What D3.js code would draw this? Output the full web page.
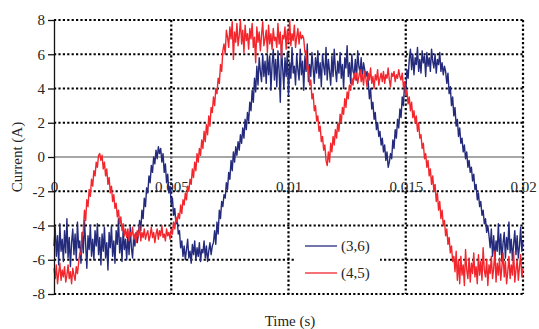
<!DOCTYPE html>
<html>
<head>
<meta charset="utf-8">
<script src="https://cdn.jsdelivr.net/npm/d3@7"></script>
<style>
  body { margin: 0; background: #fff; }
  svg { display: block; }
  text { font-family: "Liberation Serif", "Times New Roman", serif; fill: #262626; }
</style>
</head>
<body>
<svg id="chart" width="539" height="329"></svg>
<script>
// sample grid of the scope trace (s)
const sampleStep = 0.00005;
const yTicks = [-8, -6, -4, -2, 0, 2, 4, 6, 8];
const xTicks = [0, 0.005, 0.01, 0.015, 0.02];
const xTickLabels = ['0', '0.005', '0.01', '0.015', '0.02'];
const seriesNames = ['(3,6)', '(4,5)'];

// phase current (3,6)
const current36 = [
  -5.2,-4.1,-5.8,-4.6,-6.3,-3.9,-5.5,-4.8,-6.1,-4.3,-5.6,-3.6,-5.9,-4.7,-6.4,-5.0,-4.2,-5.7,-4.5,-6.0,
  -3.8,-5.3,-4.9,-6.2,-4.4,-5.6,-3.7,-5.1,-6.5,-4.6,-5.4,-4.0,-5.8,-4.8,-6.0,-4.3,-5.2,-3.9,-5.7,-4.7,
  -6.3,-4.5,-5.5,-4.1,-5.9,-5.0,-6.6,-4.4,-5.3,-4.0,-5.8,-4.9,-6.2,-4.3,-5.1,-3.6,-5.6,-4.7,-6.1,-4.2,
  -5.4,-4.8,-6.0,-4.5,-5.7,-4.1,-5.3,-5.9,-4.6,-5.2,-4.4,-5.0,
  -4.5,-3.7,-4.3,-3.1,-3.6,-2.4,-2.9,-1.8,-2.1,-1.1,-1.5,-0.5,-0.9,0.0,-0.4,0.4,-0.1,0.6,0.2,
  0.5,-0.3,0.2,-0.9,-0.4,-1.5,-1.0,-2.1,-1.7,-2.8,-2.4,-3.4,-3.0,-3.9,-3.6,-4.5,-4.3,
  -5.3,-4.9,-5.8,-5.2,-6.0,-5.4,-4.8,-5.9,-5.5,-6.2,-5.1,-5.7,-4.9,-6.0,-5.3,-5.8,-5.0,-6.1,-5.4,-5.6,
  -4.9,-5.9,-5.2,-6.1,-5.5,-5.0,-5.7,-5.2,
  -5.0,-4.3,-5.1,-3.8,-4.5,-3.1,-3.6,-2.6,-2.9,-2.2,-2.4,-1.5,-1.9,-0.9,-1.3,-0.2,-0.8,0.3,-0.3,0.6,
  0.1,0.9,0.4,1.3,0.8,1.7,1.1,2.2,1.6,2.6,2.1,3.2,2.7,3.9,3.2,4.6,3.8,5.3,4.2,5.8,5.0,4.4,6.0,4.7,5.6,
  4.3,6.0,4.8,5.9,3.9,5.4,6.3,4.5,5.7,4.1,6.2,5.0,3.2,6.5,5.2,4.0,5.8,4.7,6.1,3.6,
  5.5,4.6,6.4,4.9,5.3,4.2,6.0,5.1,4.5,6.3,4.8,5.6,3.9,5.9,5.0,6.6,4.4,5.4,4.7,6.1,
  5.2,4.3,5.8,4.9,6.2,4.6,5.5,4.1,6.0,5.3,4.8,6.4,4.5,5.7,5.0,4.2,5.9,4.7,6.3,5.1,
  4.4,5.6,4.9,6.1,4.6,5.4,4.0,5.8,5.2,6.5,4.7,5.5,4.3,6.0,5.0,4.8,5.7,4.5,6.2,5.3,
  4.9,5.8,4.6,5.5,5.1,4.7,5.0,
  4.4,3.4,4.0,2.8,3.2,2.2,2.6,1.6,2.0,1.2,1.5,0.7,1.1,0.3,0.7,-0.2,0.3,-0.6,-0.3,
  0.2,-0.1,1.0,0.5,1.6,1.1,2.2,1.7,2.8,2.3,3.5,3.0,4.3,3.8,5.1,4.6,5.7,
  6.3,5.1,6.0,4.8,5.8,5.4,6.4,5.0,5.7,4.9,6.2,5.5,5.9,4.7,6.1,5.3,5.8,5.0,6.3,5.6,
  5.2,6.0,4.9,5.7,5.4,6.1,5.0,5.5,4.8,5.3,
  5.0,4.3,4.9,3.7,4.1,3.0,3.5,2.4,2.9,1.8,2.2,1.2,1.7,0.8,1.1,0.3,0.7,-0.1,0.3,-0.6,
  -0.2,-0.9,-0.6,-1.4,-1.0,-1.9,-1.6,-2.5,-2.1,-2.9,-2.6,-3.4,-3.1,-3.9,-3.6,-4.4,-4.0,-4.6,
  -5.3,-4.2,-5.8,-4.6,-6.0,-4.9,-5.5,-3.9,-5.7,-4.5,-6.1,-5.0,-4.4,-5.9,-4.7,-5.4,-3.8,-5.6,-4.8,-6.0,
  -5.1,-4.3,-5.7,-4.6,-5.9,-5.2,-4.1,-5.5,-4.9
];

// phase current (4,5)
const current45 = [
  -6.5,-7.1,-6.3,-7.4,-6.8,-6.2,-7.2,-6.6,-7.0,-6.4,-7.3,-6.9,-6.3,-7.1,-6.7,-7.4,-6.5,-6.9,-7.2,-6.4,-6.8,
  -6.2,-5.6,-5.7,-4.6,-4.3,-3.1,-3.7,-2.5,-2.9,-1.9,-2.3,-1.3,-1.7,-0.8,-1.1,-0.3,-0.6,0.1,0.2,
  -0.2,0.1,-0.7,-0.3,-1.1,-0.7,-1.6,-1.2,-2.1,-1.7,-2.6,-2.2,-3.0,-2.7,-3.5,-3.1,-3.9,-3.5,-4.3,-3.9,-4.6,-4.2,
  -4.7,-4.2,-4.9,-4.4,-4.6,-4.1,-4.8,-4.5,-5.0,-4.3,-4.6,-4.0,-4.9,-4.4,-4.7,-4.2,-4.8,-4.5,-4.3,-4.9,
  -4.6,-4.1,-4.7,-4.4,-5.0,-4.5,-4.2,-4.8,-4.3,-4.6,-4.0,-4.7,-4.5,-4.9,-4.2,-4.6,-4.4,-4.8,
  -4.2,-4.5,-3.8,-4.2,-3.5,-3.8,-3.3,-3.6,-2.8,-3.3,-2.5,-2.8,-2.1,-2.5,-1.7,-2.0,-1.3,-1.6,-0.7,-1.2,
  -0.3,-0.8,0.2,-0.3,0.5,0.1,1.0,0.5,1.5,0.9,1.9,1.3,2.4,1.8,2.9,2.6,3.5,3.0,4.0,3.7,
  4.6,4.3,5.4,5.0,6.2,6.6,6.0,7.4,7.0,
  6.4,7.6,6.9,7.9,5.7,7.3,6.7,7.8,6.5,7.1,8.0,6.6,7.4,6.1,7.7,6.8,7.2,6.3,7.5,6.9,
  7.8,6.4,7.0,5.5,7.6,6.7,7.3,6.2,7.1,7.9,6.5,6.9,7.4,6.1,7.7,6.6,7.2,6.3,7.5,6.8,
  7.0,6.4,7.8,6.6,7.3,5.8,7.1,6.9,7.6,6.3,7.4,6.7,8.0,6.5,7.2,6.8,7.7,6.4,7.0,7.5,
  6.6,7.3,6.9,7.1,
  6.9,6.1,6.2,5.1,5.3,4.2,4.5,3.4,3.7,2.7,3.0,2.1,2.4,1.5,1.8,0.9,1.2,0.4,0.7,-0.2,-0.5,
  0.3,-0.3,0.8,0.3,1.2,0.7,1.6,1.1,2.0,1.5,2.5,2.0,2.9,2.5,3.4,2.9,3.8,3.4,4.2,3.9,4.6,4.2,4.9,4.5,
  4.9,4.3,4.7,5.1,4.4,4.8,4.2,5.0,4.6,4.1,4.9,4.5,5.2,4.3,4.7,4.0,4.8,4.5,5.1,4.2,
  4.6,4.9,4.4,5.0,4.3,4.8,4.6,5.2,4.5,4.1,4.9,4.7,5.0,4.4,4.8,4.6,5.1,4.7,
  4.5,4.9,4.1,4.4,3.6,3.9,3.1,3.5,2.7,3.2,2.3,2.7,2.0,2.4,1.5,2.0,1.1,1.3,0.5,0.8,
  -0.1,0.2,-0.6,-0.2,-1.1,-0.7,-1.6,-1.1,-2.0,-1.6,-2.6,-2.1,-3.1,-2.6,-3.6,-3.1,-4.0,-3.7,-4.6,-4.2,
  -5.1,-4.7,-5.6,-5.2,-6.1,-5.8,
  -6.7,-5.5,-7.2,-6.0,-7.4,-5.8,-6.9,-6.3,-7.5,-5.4,-6.6,-7.1,-5.9,-7.3,-6.2,-6.8,-5.6,-7.0,-6.4,-7.4,
  -5.7,-6.9,-6.1,-7.2,-5.3,-6.6,-7.0,-6.0,-7.5,-6.3,-6.8,-5.8,-7.1,-6.5,-5.5,-7.3,-6.2,-6.9,-5.9,-7.2,
  -6.4,-5.6,-7.0,-6.1,-7.4,-6.7,-5.8,-7.1,-6.3,-6.9,-5.5,-7.3,-6.6,-6.0,-7.2,-6.4,-5.7,-7.0,-6.5
];

const seriesColors = ['#242a7c', '#f2262c'];
const seriesValues = [current36, current45];

const svg = d3.select('#chart');
const margin = { top: 20, right: 16, bottom: 35, left: 54 },
      width = 539 - margin.left - margin.right,
      height = 329 - margin.top - margin.bottom;

const g = svg.append('g')
  .attr('transform', `translate(${margin.left},${margin.top})`);

const x = d3.scaleLinear().domain([0, 0.02]).range([0, width]);
const y = d3.scaleLinear().domain([-8, 8]).range([height, 0]);

// dotted grid
g.append('g').selectAll('line')
  .data(yTicks.filter(d => d !== 0))
  .enter().append('line')
  .attr('x1', 0).attr('x2', width)
  .attr('y1', d => y(d)).attr('y2', d => y(d))
  .attr('stroke', '#000').attr('stroke-width', 2.2).attr('stroke-dasharray', '2.2,2.2');

g.append('g').selectAll('line')
  .data(xTicks.filter(d => d !== 0))
  .enter().append('line')
  .attr('x1', d => x(d)).attr('x2', d => x(d))
  .attr('y1', 0).attr('y2', height)
  .attr('stroke', '#000').attr('stroke-width', 2.2).attr('stroke-dasharray', '2.2,2.2');

// zero line
g.append('line')
  .attr('x1', 0).attr('x2', width)
  .attr('y1', y(0)).attr('y2', y(0))
  .attr('stroke', '#8a8a8a').attr('stroke-width', 1.5);

// x tick labels sit below the zero line
const xAxis = g.append('g')
  .attr('transform', `translate(0,${y(0)})`)
  .call(d3.axisBottom(x).tickValues(xTicks).tickSize(0).tickPadding(24)
    .tickFormat((d, i) => xTickLabels[i]));
xAxis.select('.domain').remove();
xAxis.selectAll('text').attr('font-size', 15).attr('font-family', null).attr('fill', '#262626');

// traces
const line = d3.line()
  .x((d, i) => x(i * sampleStep))
  .y(d => y(d));

seriesValues.forEach((vals, k) => {
  g.append('path')
    .datum(vals)
    .attr('fill', 'none')
    .attr('stroke', seriesColors[k])
    .attr('stroke-width', 1.4)
    .attr('stroke-linejoin', 'round')
    .attr('d', line);
});

// y axis
const yAxis = g.append('g')
  .call(d3.axisLeft(y).tickValues(yTicks).tickSize(6).tickSizeOuter(0).tickPadding(3)
    .tickFormat(d => String(d)));
yAxis.select('.domain').attr('stroke', '#111').attr('stroke-width', 1.3);
yAxis.selectAll('.tick line').attr('stroke', '#111').attr('stroke-width', 1.3);
yAxis.selectAll('text').attr('font-size', 15).attr('font-family', null).attr('fill', '#262626');

// legend
const legend = svg.append('g');
legend.append('rect')
  .attr('x', 296).attr('y', 229).attr('width', 84).attr('height', 62)
  .attr('fill', '#fff');
seriesNames.forEach((name, k) => {
  const ly = 246 + k * 27;
  legend.append('line')
    .attr('x1', 305).attr('x2', 337).attr('y1', ly).attr('y2', ly)
    .attr('stroke', seriesColors[k]).attr('stroke-width', 1.3);
  legend.append('text')
    .attr('x', 341).attr('y', ly).attr('dy', '0.35em')
    .attr('font-size', 15)
    .text(name);
});

// axis titles
svg.append('text')
  .attr('x', 290).attr('y', 326)
  .attr('text-anchor', 'middle')
  .attr('font-size', 15)
  .text('Time (s)');

svg.append('text')
  .attr('transform', 'translate(22,157) rotate(-90)')
  .attr('text-anchor', 'middle')
  .attr('font-size', 15)
  .text('Current (A)');
</script>
</body>
</html>
